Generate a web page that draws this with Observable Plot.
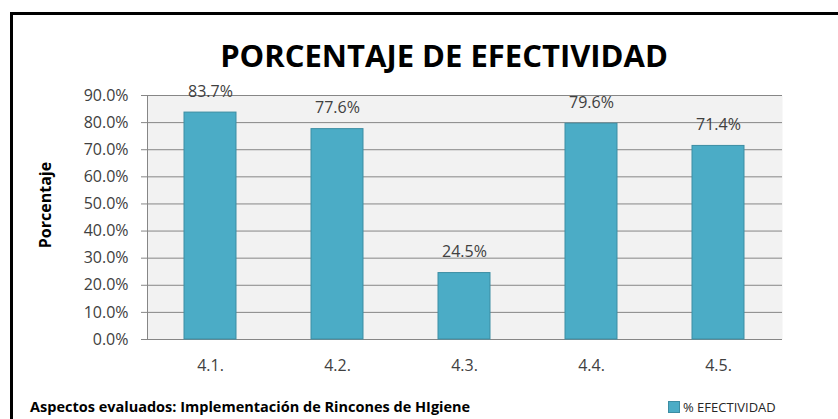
<!DOCTYPE html>
<html>
<head>
<meta charset="utf-8">
<script src="https://cdn.jsdelivr.net/npm/d3@7"></script>
<script src="https://cdn.jsdelivr.net/npm/@observablehq/plot@0.6"></script>
<style>
  body { margin: 0; background: #fff; }
  #wrap { position: relative; width: 838px; height: 419px; overflow: hidden; font-family: "Open Sans", sans-serif; }
  #frame { position: absolute; left: 10px; top: 12px; width: 900px; height: 500px; border-top: 3px solid #000; border-left: 3px solid #000; box-sizing: border-box; }
  #title { position: absolute; left: 0; width: 888px; top: 35px; text-align: center; font-weight: bold; font-size: 31px; line-height: 40px; color: #000; font-family: "Open Sans", sans-serif; }
  #plot { position: absolute; left: 0; top: 75px; }
  #ytitle { position: absolute; left: 45px; top: 205px; transform: translate(-50%, -50%) rotate(-90deg); font-weight: bold; font-size: 16px; white-space: nowrap; font-family: "Open Sans", sans-serif; color: #000; }
  #caption { position: absolute; left: 30px; top: 397px; font-weight: bold; font-size: 14.5px; line-height: 20px; font-family: "Open Sans", sans-serif; color: #000; }
  #legend { position: absolute; left: 668px; top: 397px; font-size: 13px; line-height: 20px; color: #262626; font-family: "Open Sans", sans-serif; }
  #legend span.sw { display: inline-block; width: 10px; height: 10px; background: #4BACC6; border: 1px solid #3C8DA3; margin-right: 3px; vertical-align: -1px; }
</style>
</head>
<body>
<div id="wrap">
  <div id="frame"></div>
  <div id="title">PORCENTAJE DE EFECTIVIDAD</div>
  <div id="plot"></div>
  <div id="ytitle">Porcentaje</div>
  <div id="caption">Aspectos evaluados: Implementación de Rincones de HIgiene</div>
  <div id="legend"><span class="sw"></span>% EFECTIVIDAD</div>
</div>
<script>
const categories = ["4.1.", "4.2.", "4.3.", "4.4.", "4.5."];
const values = [0.837, 0.776, 0.245, 0.796, 0.714];
const yTicks = [0, 0.1, 0.2, 0.3, 0.4, 0.5, 0.6, 0.7, 0.8, 0.9];

const data = categories.map((c, i) => ({category: c, value: values[i]}));
const pct = d3.format(".1%");

const chart = Plot.plot({
  width: 838,
  height: 304,
  marginLeft: 147,
  marginRight: 56,
  marginTop: 20,
  marginBottom: 40,
  style: {fontFamily: "'Open Sans', sans-serif", fontSize: "16px", color: "#404040", background: "transparent"},
  x: {domain: categories, paddingInner: 0.59, paddingOuter: 0.295, label: null},
  y: {domain: [0, 0.9], label: null},
  marks: [
    Plot.frame({fill: "#F2F2F2", stroke: null}),
    Plot.ruleY(yTicks, {stroke: "#868686", strokeWidth: 1}),
    Plot.frame({anchor: "left", stroke: "#868686"}),
    Plot.axisY(yTicks, {tickFormat: pct, tickSize: 6, tickPadding: 13, fontSize: 16, fill: "#404040", stroke: "#868686"}),
    Plot.barY(data, {x: "category", y: "value", fill: "#4BACC6", stroke: "#3C8DA3", strokeWidth: 1}),
    Plot.text(data, {x: "category", y: "value", text: d => pct(d.value), dy: -21, fontSize: 16, fill: "#404040"}),
    Plot.axisX({tickSize: 0, tickPadding: 20, fontSize: 16, fill: "#404040"})
  ]
});
document.getElementById("plot").appendChild(chart);
</script>
</body>
</html>
